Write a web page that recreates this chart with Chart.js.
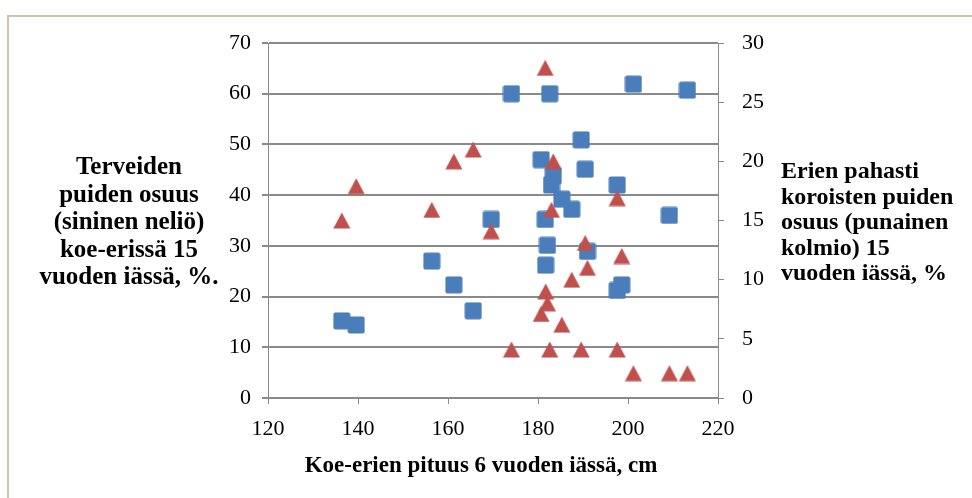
<!DOCTYPE html>
<html>
<head>
<meta charset="utf-8">
<script src="https://cdn.jsdelivr.net/npm/chart.js@4.4.0/dist/chart.umd.min.js"></script>
<style>
  html, body { margin: 0; padding: 0; background: #fff; }
</style>
</head>
<body>
<canvas id="chart" width="972" height="498"></canvas>
<script>
// plot height at age 6 (cm), one entry per sample plot
const heights = [136.4, 139.6, 156.4, 161.3, 165.6, 169.6, 174.1, 180.7, 181.6, 181.7,
  182.1, 182.6, 183.4, 183.0, 185.3, 187.5, 189.6, 190.5, 191.0, 197.6,
  197.6, 198.6, 201.2, 209.2, 213.2];
// share of healthy trees at age 15, % (left axis)
const healthyShare = [15.2, 14.4, 27.0, 22.3, 17.2, 35.2, 60.0, 47.0, 35.2, 26.2,
  30.1, 60.0, 43.8, 42.0, 39.2, 37.2, 50.9, 45.1, 28.9, 42.0,
  21.2, 22.3, 61.9, 36.0, 60.7];
// share of badly damaged trees at age 15, % (right axis)
const damagedShare = [15.0, 17.9, 15.9, 20.0, 21.0, 14.1, 4.1, 7.1, 27.9, 9.0,
  8.0, 4.1, 20.0, 15.9, 6.2, 10.0, 4.1, 13.1, 11.0, 16.9,
  4.1, 12.0, 2.1, 2.1, 2.1];

const xTicks = [120, 140, 160, 180, 200, 220];
const leftTicks = [0, 10, 20, 30, 40, 50, 60, 70];
const rightTicks = [0, 5, 10, 15, 20, 25, 30];

const xTitle = "Koe-erien pituus 6 vuoden iässä, cm";
const leftTitle = ["Terveiden", "puiden osuus", "(sininen neliö)", "koe-erissä 15", "vuoden iässä, %."];
const rightTitle = ["Erien pahasti", "koroisten puiden", "osuus (punainen", "kolmio) 15", "vuoden iässä, %"];

const BLUE = "#4a7ebb";
const RED = "#c0504d";
const GRID = "#8a8a8a";
const SERIF = "'Liberation Serif', 'Times New Roman', serif";

function squareMarker(size, color) {
  const c = document.createElement("canvas");
  c.width = size; c.height = size;
  const g = c.getContext("2d");
  g.fillStyle = color;
  g.beginPath();
  g.roundRect(0.5, 0.5, size - 1, size - 1, 2);
  g.fill();
  return c;
}

function triangleMarker(w, h, color) {
  const c = document.createElement("canvas");
  c.width = w; c.height = h;
  const g = c.getContext("2d");
  g.fillStyle = color;
  g.beginPath();
  g.moveTo(w / 2, 0.5);
  g.lineTo(w - 0.5, h - 0.5);
  g.lineTo(0.5, h - 0.5);
  g.closePath();
  g.fill();
  return c;
}

function setTicks(list) {
  return function (scale) {
    scale.ticks = list.map(v => ({ value: v }));
  };
}

// white page, the beige frame and the horizontal axis titles
const pagePlugin = {
  id: "page",
  beforeDraw(chart) {
    const ctx = chart.ctx;
    ctx.save();
    ctx.fillStyle = "#fff";
    ctx.fillRect(0, 0, chart.width, chart.height);
    ctx.strokeStyle = "#cdc6a5";
    ctx.lineWidth = 2;
    ctx.beginPath();
    ctx.moveTo(8, chart.height + 2);
    ctx.lineTo(8, 16);
    ctx.lineTo(chart.width + 2, 16);
    ctx.stroke();
    ctx.restore();
  },
  afterDraw(chart) {
    const ctx = chart.ctx;
    const area = chart.chartArea;
    ctx.save();
    ctx.fillStyle = "#000";
    ctx.textBaseline = "middle";

    ctx.font = "bold 25px " + SERIF;
    ctx.textAlign = "center";
    leftTitle.forEach((line, i) => ctx.fillText(line, 129, 168 + i * 27.5));

    ctx.font = "bold 24px " + SERIF;
    ctx.textAlign = "left";
    rightTitle.forEach((line, i) => ctx.fillText(line, 781, 172 + i * 25.5));

    ctx.font = "bold 23px " + SERIF;
    ctx.textAlign = "center";
    ctx.fillText(xTitle, 481, area.bottom + 68);
    ctx.restore();
  }
};

const ctx = document.getElementById("chart").getContext("2d");
new Chart(ctx, {
  type: "scatter",
  data: {
    datasets: [
      {
        label: "Terveet",
        data: heights.map((h, i) => ({ x: h, y: healthyShare[i] })),
        yAxisID: "y",
        pointStyle: squareMarker(18, BLUE),
        order: 1
      },
      {
        label: "Pahasti koroiset",
        data: heights.map((h, i) => ({ x: h, y: damagedShare[i] })),
        yAxisID: "y2",
        pointStyle: triangleMarker(18, 17, RED),
        order: 0
      }
    ]
  },
  options: {
    responsive: false,
    animation: false,
    layout: { padding: { top: 43, left: 0, right: 0, bottom: 0 } },
    plugins: {
      legend: { display: false },
      tooltip: { enabled: false }
    },
    scales: {
      x: {
        type: "linear",
        min: 120,
        max: 220,
        afterBuildTicks: setTicks(xTicks),
        afterFit(scale) { scale.height = 100; },
        grid: { drawOnChartArea: false, drawTicks: true, tickLength: 6, color: GRID, lineWidth: 1 },
        border: { display: true, color: GRID, width: 2 },
        ticks: { color: "#000", padding: 12, font: { family: SERIF, size: 22 }, maxRotation: 0 }
      },
      y: {
        type: "linear",
        position: "left",
        min: 0,
        max: 70,
        afterBuildTicks: setTicks(leftTicks),
        afterFit(scale) { scale.width = 268; },
        grid: { color: GRID, lineWidth: 2, tickLength: 6 },
        border: { display: true, color: GRID, width: 1 },
        ticks: { color: "#000", padding: 11, font: { family: SERIF, size: 22 } }
      },
      y2: {
        type: "linear",
        position: "right",
        min: 0,
        max: 30,
        afterBuildTicks: setTicks(rightTicks),
        afterFit(scale) { scale.width = 254; },
        grid: { drawOnChartArea: false, color: GRID, lineWidth: 1, tickLength: 6 },
        border: { display: true, color: GRID, width: 1 },
        ticks: { color: "#000", padding: 18, font: { family: SERIF, size: 22 } }
      }
    }
  },
  plugins: [pagePlugin]
});
</script>
</body>
</html>
